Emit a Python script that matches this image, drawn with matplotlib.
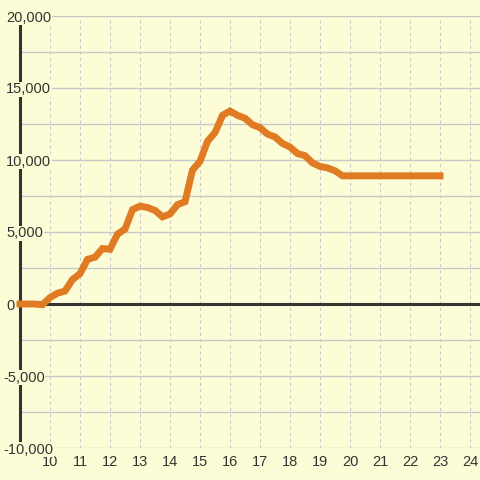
import numpy as np
import matplotlib
matplotlib.use("Agg")
import matplotlib.pyplot as plt
from matplotlib.transforms import blended_transform_factory

# ---- data ----
hours = [9.0, 9.25, 9.5, 9.75, 10.0, 10.25, 10.5, 10.75, 11.0, 11.25, 11.5, 11.75,
         12.0, 12.25, 12.5, 12.75, 13.0, 13.25, 13.5, 13.75, 14.0, 14.25, 14.5, 14.75,
         15.0, 15.25, 15.5, 15.75, 16.0, 16.25, 16.5, 16.75, 17.0, 17.25, 17.5, 17.75,
         18.0, 18.25, 18.5, 18.75, 19.0, 19.25, 19.5, 19.75, 20.0, 20.25, 20.5, 20.75,
         21.0, 21.25, 21.5, 21.75, 22.0, 22.25, 22.5, 22.75, 23.0]
values = [0, 0, 0, -50, 450, 750, 900, 1700, 2100, 3100, 3250, 3850,
          3800, 4850, 5200, 6550, 6800, 6700, 6500, 6050, 6250, 6900, 7100, 9300,
          9900, 11300, 11900, 13100, 13400, 13100, 12900, 12450, 12250, 11800, 11600, 11150,
          10900, 10450, 10300, 9800, 9550, 9450, 9250, 8900, 8900, 8900, 8900, 8900,
          8900, 8900, 8900, 8900, 8900, 8900, 8900, 8900, 8900]
x_ticks = list(range(10, 25))
y_label_ticks = [-10000, -5000, 0, 5000, 10000, 15000, 20000]
y_grid_ticks = [-10000, -7500, -5000, -2500, 0, 2500, 5000, 7500, 10000,
                12500, 15000, 17500, 20000]

BG = "#fcfcd6"
GRID = "#c8c8c8"
DARK = "#333333"
ORANGE = "#e07b24"

plt.rcParams['font.family'] = ['Liberation Sans', 'DejaVu Sans']

fig = plt.figure(figsize=(4.8, 4.8), dpi=100, facecolor=BG)
W = H = 480.0
ax = fig.add_axes([20 / W, 32 / H, 460 / W, 432 / H], facecolor=BG)

ax.set_xlim(9, 24.3333)
ax.set_ylim(-10000, 20000)

for s in ['top', 'right', 'bottom']:
    ax.spines[s].set_visible(False)
ax.spines['left'].set_color(DARK)
ax.spines['left'].set_linewidth(2.2)
ax.spines['left'].set_zorder(3)

ax.set_yticks(y_grid_ticks)
ax.set_yticklabels([])
ax.set_xticks(x_ticks)
ax.set_xticklabels([str(t) for t in x_ticks], fontsize=10.5, color=DARK)
ax.tick_params(axis='both', length=0)
ax.tick_params(axis='x', pad=5)

ax.grid(axis='y', color=GRID, linewidth=1.0, linestyle='-', zorder=1)
ax.grid(axis='x', color=GRID, linewidth=0.75, linestyle=(0, (3, 3)), zorder=1)
ax.set_axisbelow(True)

ax.axhline(0, color=DARK, linewidth=2.2, zorder=2)

ax.plot(hours, values, color=ORANGE, linewidth=5.0, solid_capstyle='projecting',
        solid_joinstyle='miter', zorder=4, clip_on=False)

trans = blended_transform_factory(fig.transFigure, ax.transData)
for v in y_label_ticks:
    lbl = f"{v:,}"
    xpix = 3 if v < 0 else 6
    ax.text(xpix / W, v, lbl, transform=trans, ha='left', va='center_baseline',
            fontsize=10.5, color=DARK, zorder=10, clip_on=False,
            bbox=dict(facecolor=BG, edgecolor='none', pad=0.5))

fig.savefig("out.png", dpi=100, facecolor=BG)
